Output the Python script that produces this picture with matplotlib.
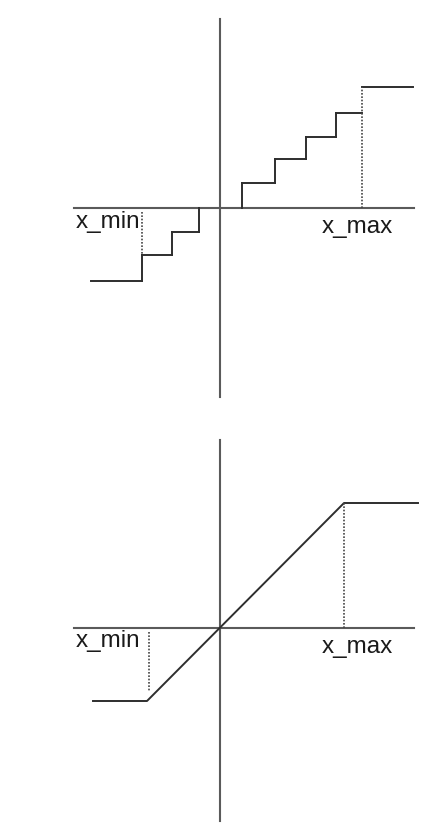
import matplotlib.pyplot as plt

plt.rcParams['font.family'] = ['Liberation Sans', 'DejaVu Sans']

# top panel: quantiser with dead zone (units ~ pixels, origin at the cross)
pos_edges = [22, 55, 86, 116, 142, 193]
pos_levels = [25, 49, 71, 95, 121]
neg_edges = [-21, -48, -78, -129]
neg_levels = [-24, -47, -73]
top_xmin_dot = [-4, -47]
top_axis_x = [-146, 194]
top_axis_y = [-189, 189]

# bottom panel: clipped linear
lin_x = [-127, -73, 124, 198]
lin_y = [-73, -73, 125, 125]
bot_xmin_dot = [-71, -4, -63]
bot_axis_x = [-146, 194]
bot_axis_y = [-193, 188]

labels = ['x_min', 'x_max']
label_x = [-144, 102]
top_label_y = [-20, -25]
bot_label_y = [-19, -25]

AXC = '#5a5a5a'
LC = '#2e2e2e'
DOT = dict(color='#444444', lw=1.2, linestyle=(0, (1, 1.0)))

fig = plt.figure(figsize=(4.44, 8.34), dpi=100)

ax1 = fig.add_axes([0, 0.5, 1, 0.5])
ax1.set_xlim(-220, 224)
ax1.set_ylim(-209, 208)
ax1.axis('off')
ax1.plot(top_axis_x, [0, 0], color=AXC, lw=1.5)
ax1.plot([0, 0], top_axis_y, color=AXC, lw=1.5)

# positive stairs
for i, lev in enumerate(pos_levels):
    ax1.plot([pos_edges[i], pos_edges[i + 1]], [lev, lev], color=LC, lw=1.4)
    if i < len(pos_levels) - 1:
        lo = pos_levels[i - 1] if i > 0 else 0
        ax1.plot([pos_edges[i], pos_edges[i]], [lo, lev], color=LC, lw=1.4)
ax1.plot([pos_edges[-2], pos_edges[-2]], [0, pos_levels[-1]], **DOT)

# negative stairs
for i, lev in enumerate(neg_levels):
    ax1.plot([neg_edges[i + 1], neg_edges[i]], [lev, lev], color=LC, lw=1.4)
    lo = neg_levels[i - 1] if i > 0 else 0
    ax1.plot([neg_edges[i], neg_edges[i]], [lo, lev], color=LC, lw=1.4)
ax1.plot([neg_edges[-2], neg_edges[-2]], top_xmin_dot, **DOT)

for t, x, y in zip(labels, label_x, top_label_y):
    ax1.text(x, y, t, fontsize=17.5, color='#1a1a1a', ha='left', va='baseline')

ax2 = fig.add_axes([0, 0, 1, 0.5])
ax2.set_xlim(-220, 224)
ax2.set_ylim(-206, 211)
ax2.axis('off')
ax2.plot(bot_axis_x, [0, 0], color=AXC, lw=1.5)
ax2.plot([0, 0], bot_axis_y, color=AXC, lw=1.5)
ax2.plot(lin_x, lin_y, color=LC, lw=1.4)
ax2.plot([lin_x[2], lin_x[2]], [0, lin_y[2]], **DOT)
ax2.plot([bot_xmin_dot[0], bot_xmin_dot[0]], bot_xmin_dot[1:], **DOT)

for t, x, y in zip(labels, label_x, bot_label_y):
    ax2.text(x, y, t, fontsize=17.5, color='#1a1a1a', ha='left', va='baseline')

fig.savefig('out.png', dpi=100, facecolor='white')
